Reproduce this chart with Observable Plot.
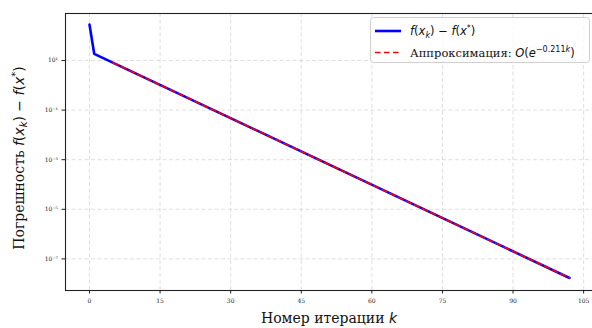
<!DOCTYPE html>
<html><head><meta charset="utf-8">
<script src="https://cdn.jsdelivr.net/npm/d3@7"></script>
<script src="https://cdn.jsdelivr.net/npm/@observablehq/plot@0.6"></script>
<style>body{margin:0;background:#fff}#chart{position:relative;width:592px;height:328px;overflow:hidden}</style>
</head><body><div id="chart"></div>
<script>
// Data
const kErr = [0, 1, 102];
const errValues = [280, 18.6, 1.7e-8];
const kFit = [5, 102];
const fitValues = [8.17, 1.7e-8];
const xTicks = [0, 15, 30, 45, 60, 75, 90, 105];
const yTicks = [1e1, 1e-1, 1e-3, 1e-5, 1e-7];
const yTickLabels = ["10\u00b9", "10\u207b\u00b9", "10\u207b\u00b3", "10\u207b\u2075", "10\u207b\u2077"];

const errData = kErr.map((k, i) => ({k, v: errValues[i]}));
const fitData = kFit.map((k, i) => ({k, v: fitValues[i]}));

const grid = {stroke: "#b0b0b0", strokeOpacity: 0.5, strokeDasharray: "4,2.5", strokeWidth: 0.8};

const chart = Plot.plot({
  width: 592, height: 328,
  marginLeft: 65, marginRight: -1, marginTop: 13, marginBottom: 38,
  style: {fontFamily: "DejaVu Serif", fontSize: "6px", color: "#222", background: "#fff"},
  x: {domain: [-5.1, 107.1]},
  y: {type: "log", domain: [5.32e-9, 785]},
  marks: [
    Plot.ruleX(xTicks, {...grid}),
    Plot.ruleY(yTicks, {...grid}),
    Plot.axisX({ticks: xTicks, tickSize: 3.5, tickPadding: 5, label: null, tickFormat: d => String(d)}),
    Plot.axisY({ticks: yTicks, tickSize: 3.5, tickPadding: 4, label: null,
      tickFormat: d => yTickLabels[yTicks.findIndex(t => Math.abs(t - d) / t < 1e-6)]}),
    Plot.line(errData, {x: "k", y: "v", stroke: "#0000ff", strokeWidth: 2.6}),
    Plot.line(fitData, {x: "k", y: "v", stroke: "#ff0000", strokeWidth: 1.6, strokeDasharray: "5.5,3.5"}),
    Plot.frame({stroke: "#222", strokeWidth: 1.1})
  ]
});
document.getElementById("chart").appendChild(chart);

const svg = d3.select(chart);
const mathFont = "DejaVu Sans";
// y label
const yl = svg.append("text").attr("transform", "translate(24,158) rotate(-90)")
  .attr("text-anchor", "middle").attr("font-family", "DejaVu Serif").attr("font-size", 14).attr("fill", "#111");
yl.append("tspan").text("Погрешность ");
yl.append("tspan").attr("font-family", mathFont).attr("font-style", "italic").text("f");
yl.append("tspan").attr("font-family", mathFont).text("(");
yl.append("tspan").attr("font-family", mathFont).attr("font-style", "italic").text("x");
yl.append("tspan").attr("font-family", mathFont).attr("font-style", "italic").attr("font-size", 10).attr("dy", 3).text("k");
yl.append("tspan").attr("font-family", mathFont).attr("dy", -3).text(") \u2212 ");
yl.append("tspan").attr("font-family", mathFont).attr("font-style", "italic").text("f");
yl.append("tspan").attr("font-family", mathFont).text("(");
yl.append("tspan").attr("font-family", mathFont).attr("font-style", "italic").text("x");
yl.append("tspan").attr("font-family", mathFont).attr("font-size", 10).attr("dy", -5).text("*");
yl.append("tspan").attr("font-family", mathFont).attr("dy", 5).text(")");

// x label
const xl = svg.append("text").attr("x", 329).attr("y", 323).attr("text-anchor", "middle")
  .attr("font-family", "DejaVu Serif").attr("font-size", 14).attr("fill", "#111");
xl.append("tspan").text("Номер итерации ");
xl.append("tspan").attr("font-family", mathFont).attr("font-style", "italic").text("k");

// legend
const lg = svg.append("g");
lg.append("rect").attr("x", 370.5).attr("y", 17.5).attr("width", 219).attr("height", 45).attr("rx", 3)
  .attr("fill", "#fff").attr("fill-opacity", 0.8).attr("stroke", "#d0d0d0");
lg.append("line").attr("x1", 375).attr("x2", 401).attr("y1", 31).attr("y2", 31).attr("stroke", "#0000ff").attr("stroke-width", 2.6);
lg.append("line").attr("x1", 375).attr("x2", 401).attr("y1", 52.5).attr("y2", 52.5).attr("stroke", "#ff0000").attr("stroke-width", 1.6).attr("stroke-dasharray", "5.5,3.5");
const t1 = lg.append("text").attr("x", 410).attr("y", 35).attr("text-anchor", "start").attr("font-family", mathFont).attr("font-size", 11.5).attr("fill", "#111");
t1.append("tspan").attr("font-style", "italic").text("f");
t1.append("tspan").text("(");
t1.append("tspan").attr("font-style", "italic").text("x");
t1.append("tspan").attr("font-style", "italic").attr("font-size", 8).attr("dy", 2.5).text("k");
t1.append("tspan").attr("dy", -2.5).text(") \u2212 ");
t1.append("tspan").attr("font-style", "italic").text("f");
t1.append("tspan").text("(");
t1.append("tspan").attr("font-style", "italic").text("x");
t1.append("tspan").attr("font-size", 8).attr("dy", -4.5).text("*");
t1.append("tspan").attr("dy", 4.5).text(")");
const t2 = lg.append("text").attr("x", 410).attr("y", 56.5).attr("text-anchor", "start").attr("font-family", "DejaVu Serif").attr("font-size", 11.5).attr("fill", "#111");
t2.append("tspan").text("Аппроксимация: ");
t2.append("tspan").attr("font-family", mathFont).attr("font-style", "italic").text("O");
t2.append("tspan").attr("font-family", mathFont).text("(");
t2.append("tspan").attr("font-family", mathFont).attr("font-style", "italic").text("e");
t2.append("tspan").attr("font-family", mathFont).attr("font-size", 8).attr("dy", -4.5).text("\u22120.211");
t2.append("tspan").attr("font-family", mathFont).attr("font-style", "italic").attr("font-size", 8).text("k");
t2.append("tspan").attr("font-family", mathFont).attr("dy", 4.5).text(")");
</script></body></html>
